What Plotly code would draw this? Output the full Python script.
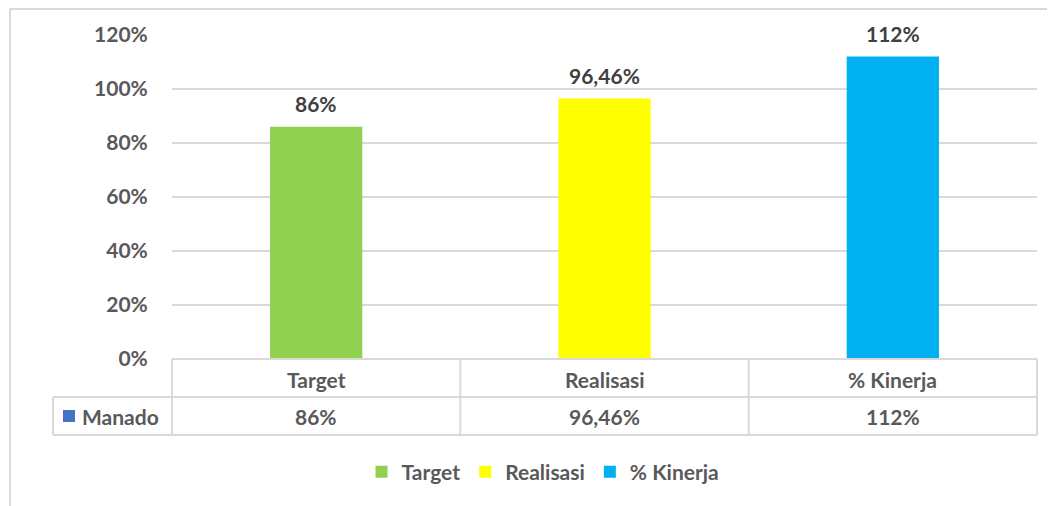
import plotly.graph_objects as go

# ---- data ----
categories = ["Target", "Realisasi", "% Kinerja"]
values = [0.86, 0.9646, 1.12]
value_labels = ["86%", "96,46%", "112%"]
bar_colors = ["#92D050", "#FFFF00", "#00B0F0"]
row_name = "Manado"
row_color = "#4472C4"
y_ticks = [0, 0.2, 0.4, 0.6, 0.8, 1.0, 1.2]
y_tick_labels = ["0%", "20%", "40%", "60%", "80%", "100%", "120%"]

# page body margin of the html page (figure is drawn at 8,8)
OFF = 8
W, H = 1055 - OFF, 506 - OFF
# plot area in screen pixels
L, R, T, B = 172, 1037, 35, 359
FONT = "Lato"
FS = 21
GRAY = "#595959"
DARK = "#404040"
LINE = "#d9d9d9"


def px(xp):
    return (xp - L) / (R - L)


def py(yp):
    return (B - yp) / (B - T)


fig = go.Figure()
for cat, val, col in zip(categories, values, bar_colors):
    fig.add_trace(go.Bar(
        x=[cat], y=[val], name=cat, marker=dict(color=col, line=dict(width=0)),
        width=0.32, hoverinfo="x+y",
    ))

annotations = []
# data labels
for cat, val, lab in zip(categories, values, value_labels):
    annotations.append(dict(
        x=cat, y=val, xref="x", yref="y", text=lab, showarrow=False,
        yanchor="bottom", yshift=9,
        font=dict(family=FONT, size=FS, color=DARK, weight="bold"),
    ))

# table text
for i, (cat, lab) in enumerate(zip(categories, value_labels)):
    annotations.append(dict(
        x=i, y=py(379), xref="x", yref="paper", text=cat, showarrow=False,
        yanchor="middle", font=dict(family=FONT, size=FS, color=GRAY, weight="bold"),
    ))
    annotations.append(dict(
        x=i, y=py(416), xref="x", yref="paper", text=lab, showarrow=False,
        yanchor="middle", font=dict(family=FONT, size=FS, color=GRAY, weight="bold"),
    ))
annotations.append(dict(
    x=px(80), y=py(416), xref="paper", yref="paper", xanchor="left",
    text=row_name, showarrow=False, yanchor="middle",
    font=dict(family=FONT, size=FS, color=GRAY, weight="bold"),
))

shapes = []
# outer chart border (left and top)
shapes.append(dict(type="line", xref="paper", yref="paper",
                   x0=px(10), x1=px(10), y0=py(520), y1=py(9),
                   line=dict(color=LINE, width=2)))
shapes.append(dict(type="line", xref="paper", yref="paper",
                   x0=px(10), x1=px(1070), y0=py(9), y1=py(9),
                   line=dict(color=LINE, width=2)))
# table horizontal lines
shapes.append(dict(type="line", xref="paper", yref="paper",
                   x0=0, x1=1, y0=0, y1=0, line=dict(color=LINE, width=2)))
for yy in (397, 435):
    shapes.append(dict(type="line", xref="paper", yref="paper",
                       x0=px(53), x1=1, y0=py(yy), y1=py(yy),
                       line=dict(color=LINE, width=2)))
# table vertical lines
shapes.append(dict(type="line", xref="paper", yref="paper",
                   x0=px(53), x1=px(53), y0=py(397), y1=py(435),
                   line=dict(color=LINE, width=2)))
for xx in (0, 1):
    shapes.append(dict(type="line", xref="paper", yref="paper",
                       x0=xx, x1=xx, y0=0, y1=py(435),
                       line=dict(color=LINE, width=2)))
for k in range(1, len(categories)):
    shapes.append(dict(type="line", xref="x", yref="paper",
                       x0=k - 0.5, x1=k - 0.5, y0=0, y1=py(435),
                       line=dict(color=LINE, width=2)))
# legend key for the table row
shapes.append(dict(type="rect", xref="paper", yref="paper",
                   x0=px(63), x1=px(75), y0=py(410), y1=py(422),
                   fillcolor=row_color, line=dict(width=0)))

fig.update_layout(
    width=W, height=H,
    margin=dict(l=L - OFF, r=W - (R - OFF), t=T - OFF, b=H - (B - OFF), pad=0),
    paper_bgcolor="white", plot_bgcolor="white",
    barmode="overlay",
    showlegend=True,
    legend=dict(orientation="h", x=px(543), xanchor="center",
                y=py(472), yanchor="middle",
                font=dict(family=FONT, size=FS, color=GRAY, weight="bold"),
                itemclick=False, tracegroupgap=0),
    xaxis=dict(showticklabels=False, showgrid=False, zeroline=False,
               range=[-0.5, len(categories) - 0.5], fixedrange=True),
    yaxis=dict(range=[0, 1.2], tickvals=y_ticks, ticktext=y_tick_labels,
               showgrid=True, gridcolor=LINE, gridwidth=2, zeroline=False,
               ticks="outside", ticklen=19, tickcolor="rgba(0,0,0,0)",
               tickfont=dict(family=FONT, size=FS, color=GRAY, weight="bold"),
               fixedrange=True),
    annotations=annotations,
    shapes=shapes,
    font=dict(family=FONT),
)

fig.write_html("out.html")
